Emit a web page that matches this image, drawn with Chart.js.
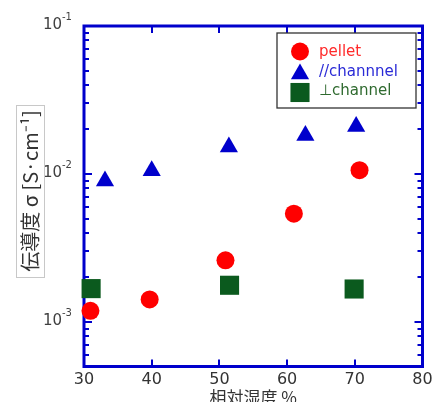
<!DOCTYPE html>
<html><head><meta charset="utf-8">
<script src="https://cdn.jsdelivr.net/npm/chart.js@4/dist/chart.umd.min.js"></script>
<style>html,body{margin:0;padding:0;background:#fff;}canvas{display:block;}</style>
</head><body>
<canvas id="c" width="436" height="402"></canvas>
<script>
// ---- data ----
const seriesNames = ['pellet', '//channnel', '\u22A5channel'];
const pelletRH = [30.95, 39.7, 50.9, 61.0, 70.7];
const pelletSigma = [1.19e-3, 1.42e-3, 2.61e-3, 5.39e-3, 1.06e-2];
const paraRH = [33.1, 40.0, 51.4, 62.7, 70.2];
const paraSigma = [8.98e-3, 1.05e-2, 1.52e-2, 1.82e-2, 2.09e-2];
const perpRH = [31.05, 51.5, 69.9];
const perpSigma = [1.68e-3, 1.77e-3, 1.67e-3];
const xTickValues = [30, 40, 50, 60, 70, 80];
const yDecades = [1e-3, 1e-2, 1e-1];
const yDecadeLabels = ['-3', '-2', '-1'];
const xTitle = '相対湿度 %';
const yTitle = '伝導度 σ [S·cm⁻¹]';

const RED = '#ff0000', BLUE = '#0000cc', GREEN = '#0b5a1e', AXIS = '#0000cc';
const textColors = ['#ff2a2a', '#2a2ad6', '#2f6a2f'];

function pts(xs, ys) { return xs.map((x, i) => ({x: x, y: ys[i]})); }

const frame = {
  id: 'frame',
  beforeDatasetsDraw(chart) {
    const ctx = chart.ctx, a = chart.chartArea;
    const xs = chart.scales.x, ys = chart.scales.y;
    ctx.save();
    ctx.strokeStyle = AXIS;
    ctx.lineWidth = 2;
    xTickValues.forEach(v => {
      const px = Math.round(xs.getPixelForValue(v));
      ctx.beginPath();
      ctx.moveTo(px, a.bottom); ctx.lineTo(px, a.bottom - 7);
      ctx.moveTo(px, a.top); ctx.lineTo(px, a.top + 7);
      ctx.stroke();
    });
    const yVals = [];
    for (let e = -4; e <= -1; e++) {
      for (let m = 1; m <= 9; m++) {
        const v = m * Math.pow(10, e);
        if (v >= ys.min * 0.999 && v <= ys.max * 1.001) yVals.push({v: v, major: m === 1});
      }
    }
    yVals.forEach(t => {
      const py = Math.round(ys.getPixelForValue(t.v));
      const len = t.major ? 8 : 5;
      ctx.beginPath();
      ctx.moveTo(a.left, py); ctx.lineTo(a.left + len, py);
      ctx.moveTo(a.right, py); ctx.lineTo(a.right - len, py);
      ctx.stroke();
    });
    ctx.lineWidth = 3;
    ctx.strokeRect(a.left, a.top, a.right - a.left, a.bottom - a.top);
    // x tick labels
    ctx.fillStyle = '#333';
    ctx.font = '16px "DejaVu Sans"';
    ctx.textAlign = 'center';
    ctx.textBaseline = 'middle';
    xTickValues.forEach(v => {
      ctx.fillText(String(v), xs.getPixelForValue(v), 379.5);
    });
    // y tick labels with superscripts
    ctx.fillStyle = '#404040';
    yDecades.forEach((v, i) => {
      const py = ys.getPixelForValue(v);
      ctx.font = '15px "DejaVu Sans"';
      ctx.textAlign = 'right';
      ctx.textBaseline = 'middle';
      ctx.fillText('10', 62, py - 1);
      ctx.font = '10px "DejaVu Sans"';
      ctx.textAlign = 'left';
      ctx.fillText(yDecadeLabels[i], 62, py - 9);
    });
    ctx.fillStyle = '#333';
    ctx.font = '17px "Noto Sans CJK JP"';
    ctx.textAlign = 'center';
    ctx.textBaseline = 'middle';
    ctx.fillText(xTitle, (a.left + a.right) / 2, 398);
    ctx.save();
    ctx.strokeStyle = '#c8c8c8';
    ctx.lineWidth = 1;
    ctx.strokeRect(16.5, 105.5, 28, 172);
    ctx.translate(30, 191);
    ctx.rotate(-Math.PI / 2);
    ctx.font = '20px "Noto Sans CJK JP"';
    ctx.fillStyle = '#333';
    ctx.fillText(yTitle, 0, 0);
    ctx.restore();
    ctx.restore();
  },
  afterDraw(chart) {
    const ctx = chart.ctx;
    ctx.save();
    ctx.fillStyle = '#fff';
    ctx.strokeStyle = '#333';
    ctx.lineWidth = 1.3;
    ctx.fillRect(277, 33, 139, 75);
    ctx.strokeRect(277, 33, 139, 75);
    const rows = [51.5, 74, 92.5];
    const textY = [52.5, 72.5, 91.5];
    chart.data.datasets.forEach((ds, i) => {
      ctx.fillStyle = ds.backgroundColor;
      ctx.strokeStyle = ds.backgroundColor;
      Chart.helpers.drawPoint(ctx, {
        pointStyle: ds.pointStyle, radius: ds.pointRadius, borderWidth: 0, rotation: 0
      }, 300, rows[i]);
      ctx.font = '15px "DejaVu Sans"';
      ctx.textAlign = 'left';
      ctx.textBaseline = 'middle';
      ctx.fillStyle = textColors[i];
      ctx.fillText(ds.label, 319, textY[i]);
    });
    ctx.restore();
  }
};

new Chart(document.getElementById('c'), {
  type: 'scatter',
  data: {
    datasets: [
      {label: seriesNames[0], data: pts(pelletRH, pelletSigma), pointStyle: 'circle', pointRadius: 9,
       backgroundColor: RED, borderColor: RED, borderWidth: 0, clip: false},
      {label: seriesNames[1], data: pts(paraRH, paraSigma), pointStyle: 'triangle', pointRadius: 10.5,
       backgroundColor: BLUE, borderColor: BLUE, borderWidth: 0, clip: false},
      {label: seriesNames[2], data: pts(perpRH, perpSigma), pointStyle: 'rect', pointRadius: 13.5,
       backgroundColor: GREEN, borderColor: GREEN, borderWidth: 0, clip: false}
    ]
  },
  options: {
    responsive: false,
    animation: false,
    devicePixelRatio: 1,
    layout: {padding: {left: 0, right: 11, top: 26, bottom: 0}},
    plugins: {legend: {display: false}, tooltip: {enabled: false}},
    scales: {
      x: {
        type: 'linear', min: 30, max: 80,
        grid: {display: false, drawTicks: false},
        border: {display: false},
        ticks: {display: false, stepSize: 10},
        afterFit(s) { s.height = 35.5; }
      },
      y: {
        type: 'logarithmic', min: 5e-4, max: 0.1,
        grid: {display: false, drawTicks: false},
        border: {display: false},
        ticks: {display: false},
        afterFit(s) { s.width = 84; }
      }
    }
  },
  plugins: [frame]
});
</script>
</body></html>
